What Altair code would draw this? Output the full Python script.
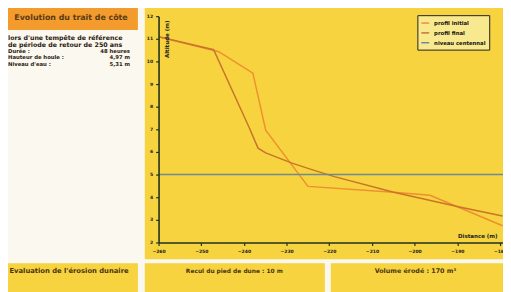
import altair as alt
import pandas as pd

# ---- data ----
distance_initial = [-260, -245.9, -237.9, -234.9, -225.0, -204.9, -196.4, -189.0, -179.4]
altitude_initial = [11.09, 10.43, 9.48, 6.96, 4.48, 4.22, 4.09, 3.50, 2.74]
distance_final = [-260, -247.1, -238.8, -236.7, -234.9, -228.9, -224.1, -218.8, -204.9, -189.5, -179.4]
altitude_final = [11.09, 10.52, 7.09, 6.17, 5.96, 5.52, 5.22, 4.91, 4.22, 3.57, 3.17]
niveau_distance = [-260, -179.3]
niveau_altitude = [5, 5]

series_names = ["profil initial", "profil final", "niveau centennal"]
series_colors = ["#ef8f2f", "#c8742a", "#6f8a92"]
x_ticks = [-260, -250, -240, -230, -220, -210, -200, -190, -180]
y_ticks = [2, 3, 4, 5, 6, 7, 8, 9, 10, 11, 12]

title_left = "Evolution du trait de côte"
intro_lines = ["lors d'une tempête de référence", "de période de retour de 250 ans"]
param_labels = ["Durée :", "Hauteur de houle :", "Niveau d'eau :"]
param_values = ["48 heures", "4,97 m", "5,31 m"]
bottom_labels = ["Evaluation de l'érosion dunaire", "Recul du pied de dune : 10 m", "Volume érodé : 170 m³"]

FONT = "DejaVu Sans"
YELLOW = "#f6d33f"
ORANGE = "#f39b2d"
AXIS = "#1f3320"

rows = []
for d, a in zip(distance_initial, altitude_initial):
    rows.append({"distance": d, "altitude": a, "serie": series_names[0]})
for d, a in zip(distance_final, altitude_final):
    rows.append({"distance": d, "altitude": a, "serie": series_names[1]})
for d, a in zip(niveau_distance, niveau_altitude):
    rows.append({"distance": d, "altitude": a, "serie": series_names[2]})
df = pd.DataFrame(rows)

one = pd.DataFrame({"d": [0]})


def box(x1, x2, y1, y2, color):
    return alt.Chart(one).mark_rect(color=color).encode(
        x=alt.value(x1), x2=alt.value(x2), y=alt.value(y1), y2=alt.value(y2)
    )


def txt(label, x, y, size, align="left", weight="bold", color="#2a2010"):
    return alt.Chart(pd.DataFrame({"t": [label]})).mark_text(
        font=FONT, fontSize=size, fontWeight=weight, align=align,
        baseline="middle", color=color
    ).encode(x=alt.value(x), y=alt.value(y), text="t:N")


decor = [
    box(-14, 350, -9, 247, YELLOW),
    box(-156, -21, -9, 14, ORANGE),
    box(-161, -21, 251, 290, YELLOW),
    box(-14, 169, 251, 290, YELLOW),
    box(175, 352, 251, 290, YELLOW),
    txt(title_left, -89, 2, 8.0, align="center", color="#5a3a12"),
    txt(intro_lines[0], -153, 22.5, 6.4),
    txt(intro_lines[1], -153, 29, 6.4),
]
for i, (lab, val) in enumerate(zip(param_labels, param_values)):
    y = 35.5 + i * 6.5
    decor.append(txt(lab, -153, y, 5.4))
    decor.append(txt(val, -29, y, 5.4, align="right"))
for lab, xc, fs in zip(bottom_labels, [-91, 77, 261], [6.9, 6.0, 6.5]):
    decor.append(txt(lab, xc, 259, fs, align="center", color="#4a3510"))

lines = alt.Chart(df).mark_line(strokeWidth=1.5, clip=True).encode(
    x=alt.X(
        "distance:Q",
        scale=alt.Scale(domain=[-260, -179.3], nice=False, zero=False),
        axis=alt.Axis(
            values=x_ticks, grid=False, labelFont=FONT, labelFontSize=4.6,
            labelFontWeight="bold", labelColor="#222", labelFlush=False,
            labelOverlap=False, labelPadding=3, domainColor=AXIS, domainWidth=1.6,
            tickColor=AXIS, tickWidth=1.2, tickSize=3, zindex=1,
            title="Distance (m)", titleFont=FONT, titleFontSize=5.6,
            titleFontWeight="bold", titleColor="#222", titleX=344, titleY=-7,
            titleAlign="right", titleBaseline="middle", titleAnchor="end",
        ),
    ),
    y=alt.Y(
        "altitude:Q",
        scale=alt.Scale(domain=[2, 12], nice=False, zero=False),
        axis=alt.Axis(
            values=y_ticks, grid=False, labelFont=FONT, labelFontSize=4.6,
            labelFontWeight="bold", labelColor="#222", labelPadding=3,
            domainColor=AXIS, domainWidth=1.6, tickColor=AXIS, tickWidth=1.2,
            tickSize=3, zindex=1, title="Altitude (m)", titleFont=FONT,
            titleFontSize=5.6, titleFontWeight="bold", titleColor="#222",
            titleX=8, titleY=23, titleAngle=270, titleAlign="center",
            titleBaseline="middle",
        ),
    ),
    color=alt.Color(
        "serie:N",
        scale=alt.Scale(domain=series_names, range=series_colors),
        sort=series_names,
        legend=alt.Legend(
            title=None, orient="none", legendX=263, legendY=-1,
            fillColor="#f8e98e", strokeColor="#222", padding=3,
            symbolType="stroke", symbolSize=64, symbolStrokeWidth=1.5,
            labelFont=FONT, labelFontSize=5.4, labelFontWeight="bold",
            labelColor="#111", labelOffset=4, rowPadding=1, cornerRadius=0,
        ),
    ),
    detail="serie:N",
)

chart = alt.layer(*decor, lines).properties(
    width=350, height=230,
    autosize=alt.AutoSizeParams(type="none"),
    padding={"left": 153, "top": 6, "right": 0, "bottom": 48},
    background="#fbf8ef",
).configure_view(stroke=None, fill=None)

chart.save("out.html", embed_options={"renderer": "svg", "actions": False})
